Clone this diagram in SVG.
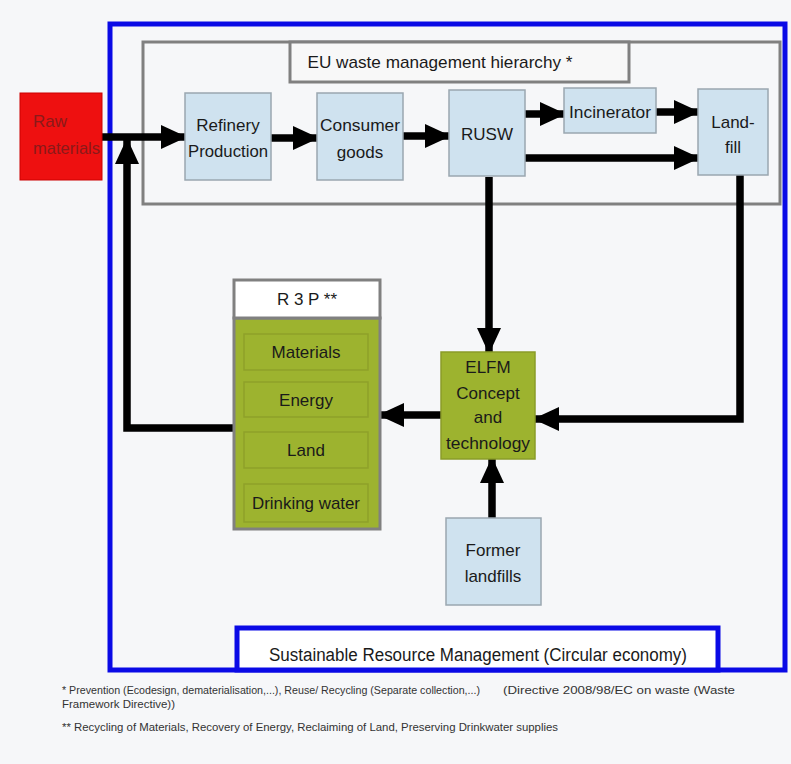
<svg xmlns="http://www.w3.org/2000/svg" width="791" height="764" viewBox="0 0 791 764">
<style>
text{font-family:"Liberation Sans",Arial,sans-serif;fill:#1a1a1a;text-anchor:middle}
.lbl{font-size:17px}
.blue{fill:#cfe2ef;stroke:#9aa7b0;stroke-width:1.5}
.green{fill:#9db32f;stroke:#8a9c28;stroke-width:1.5}
.inner{fill:#9db32f;stroke:#8ea12a;stroke-width:1.5}
.con{fill:none;stroke:#000;stroke-width:7.5;marker-end:url(#ah)}
.foot{font-size:11.5px;fill:#333;text-anchor:start}
</style>
<defs>
<marker id="ah" markerUnits="userSpaceOnUse" markerWidth="26" markerHeight="24" refX="24" refY="12" orient="auto">
<path d="M0,0 L26,12 L0,24 z" fill="#000"/>
</marker>
</defs>
<rect x="0" y="0" width="791" height="764" fill="#f6f7f9"/>
<g id="outer-frame">
<rect x="110" y="24" width="675" height="646" fill="none" stroke="#0a0ae6" stroke-width="5"/>
</g>
<g id="eu-hierarchy">
<rect x="143" y="42" width="637" height="162" fill="none" stroke="#808080" stroke-width="3"/>
<rect x="290" y="42" width="339" height="40" fill="#f8f8f8" stroke="#808080" stroke-width="3"/>
<text x="440" y="68" font-size="17" textLength="265" lengthAdjust="spacingAndGlyphs">EU waste management hierarchy *</text>
</g>
<g id="connectors">
<path class="con" d="M102,137 H185"/>
<path class="con" d="M271,138 H317"/>
<path class="con" d="M403,136 H449"/>
<path class="con" d="M525,114 H564"/>
<path class="con" d="M656,112 H698"/>
<path class="con" d="M525,158 H698"/>
<path class="con" d="M489,177 V352"/>
<path class="con" d="M740,175 V419 H535"/>
<path class="con" d="M492,518 V459"/>
<path class="con" d="M441,415 H380"/>
<path class="con" d="M234,428 H127 V140"/>
</g>
<g id="raw-materials">
<rect x="20" y="93" width="82" height="87" fill="#ee1010" stroke="#c00" stroke-width="1"/>
<text x="33" y="127" class="lbl" style="text-anchor:start;fill:#8a1a1a">Raw</text>
<text x="33" y="154" class="lbl" style="text-anchor:start;fill:#8a1a1a" textLength="67" lengthAdjust="spacingAndGlyphs">materials</text>
</g>
<g id="refinery">
<rect class="blue" x="185" y="93" width="86" height="87"/>
<text x="228" y="131" class="lbl">Refinery</text>
<text x="228" y="157" class="lbl" textLength="80" lengthAdjust="spacingAndGlyphs">Production</text>
</g>
<g id="consumer">
<rect class="blue" x="317" y="93" width="86" height="87"/>
<text x="360" y="131" class="lbl" textLength="80" lengthAdjust="spacingAndGlyphs">Consumer</text>
<text x="360" y="158" class="lbl">goods</text>
</g>
<g id="rusw">
<rect class="blue" x="449" y="90" width="76" height="86"/>
<text x="487" y="140" class="lbl">RUSW</text>
</g>
<g id="incinerator">
<rect class="blue" x="564" y="88" width="92" height="45"/>
<text x="610" y="118" class="lbl" textLength="82" lengthAdjust="spacingAndGlyphs">Incinerator</text>
</g>
<g id="landfill">
<rect class="blue" x="698" y="89" width="70" height="86"/>
<text x="733" y="128" class="lbl">Land-</text>
<text x="733" y="153" class="lbl">fill</text>
</g>
<g id="elfm">
<rect class="green" x="441" y="352" width="94" height="107"/>
<text x="488" y="373" class="lbl">ELFM</text>
<text x="488" y="399" class="lbl">Concept</text>
<text x="488" y="423" class="lbl">and</text>
<text x="488" y="449" class="lbl" textLength="84" lengthAdjust="spacingAndGlyphs">technology</text>
</g>
<g id="former-landfills">
<rect class="blue" x="446" y="518" width="95" height="87"/>
<text x="493" y="556" class="lbl">Former</text>
<text x="493" y="582" class="lbl">landfills</text>
</g>
<g id="r3p">
<rect x="234" y="318" width="146" height="211" fill="#9db32f" stroke="#808080" stroke-width="3"/>
<rect x="234" y="280" width="146" height="38" fill="#fff" stroke="#808080" stroke-width="3"/>
<text x="307" y="305" class="lbl">R 3 P **</text>
<rect class="inner" x="244" y="334" width="124" height="36"/>
<text x="306" y="358" class="lbl">Materials</text>
<rect class="inner" x="244" y="382" width="124" height="35"/>
<text x="306" y="406" class="lbl">Energy</text>
<rect class="inner" x="244" y="432" width="124" height="36"/>
<text x="306" y="456" class="lbl">Land</text>
<rect class="inner" x="244" y="484" width="124" height="38"/>
<text x="306" y="509" class="lbl" textLength="108" lengthAdjust="spacingAndGlyphs">Drinking water</text>
</g>
<g id="srm">
<rect x="237" y="628" width="481" height="42" fill="#fff" stroke="#0a0ae6" stroke-width="5"/>
<text x="478" y="661" font-size="18" textLength="418" lengthAdjust="spacingAndGlyphs">Sustainable Resource Management (Circular economy)</text>
</g>
<g id="footnotes">
<text class="foot" x="62" y="694" textLength="418" lengthAdjust="spacingAndGlyphs">* Prevention (Ecodesign, dematerialisation,...), Reuse/ Recycling (Separate collection,...)</text>
<text class="foot" x="503" y="694" textLength="232" lengthAdjust="spacingAndGlyphs">(Directive 2008/98/EC on waste (Waste</text>
<text class="foot" x="62" y="708" textLength="113" lengthAdjust="spacingAndGlyphs">Framework Directive))</text>
<text class="foot" x="62" y="731" textLength="496" lengthAdjust="spacingAndGlyphs">** Recycling of Materials, Recovery of Energy, Reclaiming of Land, Preserving Drinkwater supplies</text>
</g>
</svg>
